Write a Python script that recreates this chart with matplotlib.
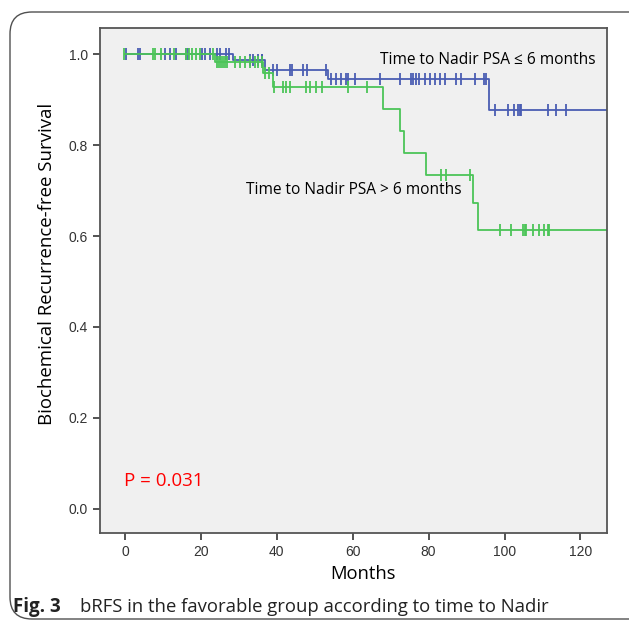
import numpy as np
import matplotlib
matplotlib.use("Agg")
import matplotlib.pyplot as plt
from matplotlib.patches import FancyBboxPatch

# Kaplan-Meier steps (event months, survival after event)
le6_times = [0, 28.5, 36.8, 53.5, 95.8]
le6_surv = [1.0, 0.986, 0.966, 0.945, 0.877]
le6_censor = [0.3, 3.5, 4, 10.5, 12, 13.5, 16, 16.6, 20.3, 21.2, 22.3, 24.2, 25,
              26.5, 27.5, 32.9, 33.7, 35, 36, 36.2,
              39, 40, 43.4, 43.9, 46.8, 48, 53,
              54.4, 55.7, 57, 58.3, 58.8, 60.5, 67.3, 72.4, 75.4, 76, 76.8, 77.6,
              79, 80.3, 81.6, 82.9, 84.2, 87.3, 88.6, 92.1, 94.7, 95.2,
              97.4, 100.9, 102.6, 103.5, 104, 104.4, 111.4, 113.6, 116.2]

gt6_times = [0, 23.7, 36.4, 39.0, 67.9, 72.4, 73.4, 79.4, 91.8, 92.9]
gt6_surv = [1.0, 0.982, 0.958, 0.928, 0.880, 0.831, 0.783, 0.734, 0.672, 0.613]
gt6_censor = [-0.3, 7.4, 8, 9.4, 13, 16, 17, 17.8, 18.8, 19.7, 23.3,
              24.2, 24.7, 25.3, 25.8, 26.3, 27, 28.9, 30.3, 31.6, 32.9, 34.2, 35, 36,
              36.8, 38,
              39.3, 41.7, 42.5, 43.4, 47.8, 48.7, 50.4, 52, 58.8, 63.7,
              83.3, 84.6, 90.8,
              98.7, 101.8, 104.8, 105.3, 105.7, 107.5, 109.2, 110.5, 111.4, 111.8]

x_end = 127
yticks = [0.0, 0.2, 0.4, 0.6, 0.8, 1.0]
xticks = [0, 20, 40, 60, 80, 100, 120]

blue = "#4a5db3"
green = "#4cc458"


def surv_at(t, times, surv):
    idx = np.searchsorted(times, t, side="right") - 1
    return np.array(surv)[np.clip(idx, 0, None)]


fig = plt.figure(figsize=(6.29, 6.26), dpi=100)
fig.patch.set_facecolor("white")

# rounded frame around the figure panel
frame = FancyBboxPatch((10 / 629, 7 / 626), 1.2, (614 - 7) / 626,
                       boxstyle="round,pad=0,rounding_size=0.035",
                       transform=fig.transFigure, facecolor="none",
                       edgecolor="#505050", linewidth=1.0, clip_on=False)
fig.patches.append(frame)

ax = fig.add_axes([99.5 / 629, 1 - 533 / 626, (607 - 99.5) / 629, (533 - 27.7) / 626])
ax.set_facecolor("#f0f0f0")

for times, surv, cens, col in [(le6_times, le6_surv, le6_censor, blue),
                               (gt6_times, gt6_surv, gt6_censor, green)]:
    xs = list(times) + [x_end]
    ys = list(surv) + [surv[-1]]
    ax.step(xs, ys, where="post", color=col, lw=1.3)
    ax.plot(cens, surv_at(cens, times, surv), ls="none", marker="|",
            ms=8, mew=1.3, color=col)

ax.set_xlim(-6.7, x_end)
ax.set_ylim(-0.053, 1.058)
ax.set_xticks(xticks)
ax.set_yticks(yticks)
ax.set_yticklabels([f"{v:.1f}" for v in yticks])
ax.tick_params(direction="out", length=5, width=1.3, color="#444444",
               labelsize=10, labelcolor="#333333")
for lab in ax.get_xticklabels() + ax.get_yticklabels():
    lab.set_family(["Liberation Sans Narrow", "Liberation Sans"])
for s in ax.spines.values():
    s.set_color("#555555")
    s.set_linewidth(1.3)

ax.set_xlabel("Months", fontsize=13.2, family="Open Sans")
ax.xaxis.set_label_coords(0.519, -0.063)
ax.set_ylabel("Biochemical Recurrence-free Survival", fontsize=13.4,
              family="Open Sans")
ax.yaxis.set_label_coords(-0.086, 0.533)

ax.text(95.5, 0.987, "Time to Nadir PSA \u2264 6 months", fontsize=11.2,
        family="Open Sans", ha="center", va="center")
ax.text(60.3, 0.702, "Time to Nadir PSA > 6 months", fontsize=11.2,
        family="Open Sans", ha="center", va="center")
ax.text(-0.3, 0.062, "P = 0.031", fontsize=13.5, family="Open Sans",
        color="red", ha="left", va="center")

fig.text(13 / 629, 1 - 607 / 626, "Fig. 3", fontsize=13.5, family="Open Sans",
         weight="bold", ha="left", va="center", color="#222222")
fig.text(80 / 629, 1 - 607 / 626, "bRFS in the favorable group according to time to Nadir",
         fontsize=13.3, family="Open Sans", ha="left", va="center", color="#222222")

fig.savefig("out.png", dpi=100)
